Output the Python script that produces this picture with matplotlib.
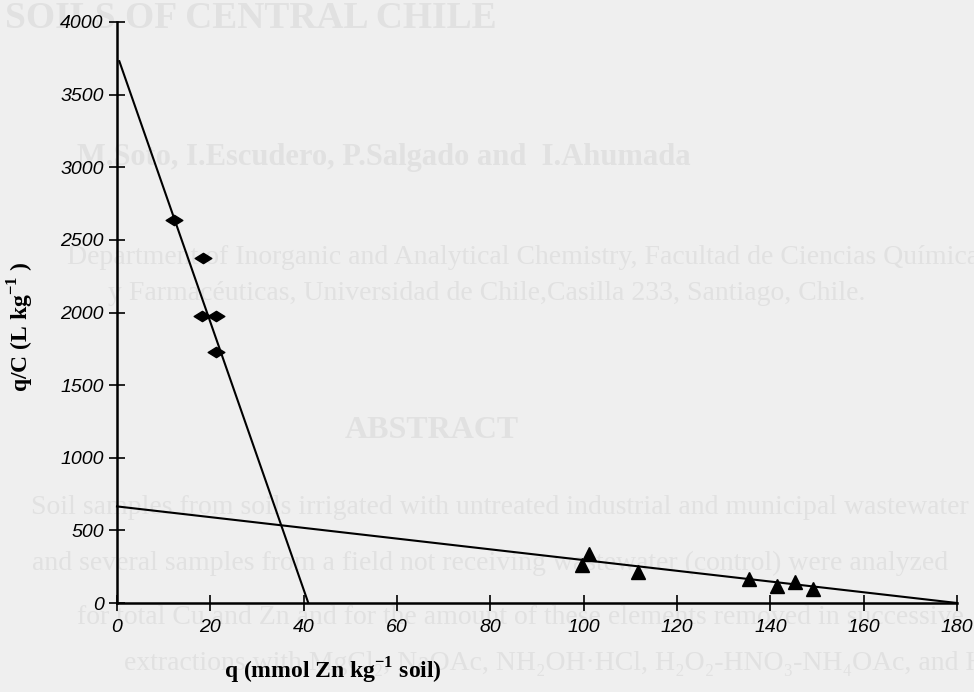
"""Scatchard-type plot: q/C versus q for Zn sorption on soil."""

import matplotlib
matplotlib.use("Agg")
import matplotlib.pyplot as plt
from matplotlib.path import Path

# diamonds (high-affinity sites)
q_diamond = [12.3, 18.4, 18.2, 21.2, 21.3]
qc_diamond = [2637, 2377, 1977, 1977, 1726]

# triangles (low-affinity sites)
q_triangle = [101.2, 99.7, 111.7, 135.4, 141.5, 145.3, 149.1]
qc_triangle = [335, 264, 216, 165, 117, 144, 94]

# fitted lines (end points)
fit1_q = [0.5, 41.0]
fit1_qc = [3730, 0]
fit2_q = [0.0, 180.0]
fit2_qc = [665, 0]

x_ticks = [0, 20, 40, 60, 80, 100, 120, 140, 160, 180]
y_ticks = [0, 500, 1000, 1500, 2000, 2500, 3000, 3500, 4000]

# faint bleed-through text from the other side of the scanned page:
# (line, word used to place it, x of that word in px, y in px, size, weight)
ghost_lines = [
    ("SOILS OF CENTRAL CHILE", "SOILS", 5, 18, 27, "bold"),
    ("M.Soto, I.Escudero, P.Salgado and  I.Ahumada", "P.Salgado", 342, 157, 22, "bold"),
    ("Department of Inorganic and Analytical Chemistry, Facultad de Ciencias Químicas",
     "and Analytical", 348, 258, 20, "normal"),
    ("y Farmacéuticas, Universidad de Chile,Casilla 233, Santiago, Chile.",
     "de Chile", 447, 293, 20, "normal"),
    ("ABSTRACT", "ABSTRACT", 345, 430, 23, "bold"),
    ("Soil samples from soils irrigated with untreated industrial and municipal wastewater",
     "irrigated", 298, 507, 20, "normal"),
    ("and several samples from a field not receiving wastewater (control) were analyzed",
     "from a field", 261, 563, 20, "normal"),
    ("for total Cu and Zn and for the amount of these elements removed in successive",
     "removed", 714, 618, 20, "normal"),
    ("extractions with MgCl\u2082, NaOAc, NH\u2082OH\u00b7HCl, H\u2082O\u2082-HNO\u2083-NH\u2084OAc, and HNO\u2083",
     "NaOAc", 397, 664, 20, "normal"),
]

W, H = 974, 692
fig = plt.figure(figsize=(W / 100, H / 100), dpi=100)
fig.patch.set_facecolor("#efefef")
renderer = fig.canvas.get_renderer()

for text, word, wx, py, size, weight in ghost_lines:
    style = dict(fontsize=size, fontweight=weight, family="Liberation Serif")
    prefix = text[:text.index(word)]
    shift = 0
    if prefix:
        probe = fig.text(0, 0, prefix + "|", **style)
        bar = fig.text(0, 0, "|", **style)
        shift = (probe.get_window_extent(renderer).width
                 - bar.get_window_extent(renderer).width)
        probe.remove()
        bar.remove()
    fig.text((wx - shift) / W, 1 - py / H, text, color="#e1e1e1",
             ha="left", va="center", zorder=-1, **style)

ax = fig.add_axes([117 / W, 1 - 603 / H, (957 - 117) / W, (603 - 22) / H])
ax.patch.set_visible(False)

ax.plot(fit1_q, fit1_qc, color="black", lw=1.5, clip_on=False)
ax.plot(fit2_q, fit2_qc, color="black", lw=1.5, clip_on=False)

diamond = Path([(-1, 0), (0, 0.62), (1, 0), (0, -0.62), (-1, 0)],
               [Path.MOVETO, Path.LINETO, Path.LINETO, Path.LINETO, Path.CLOSEPOLY])
ax.plot(q_diamond, qc_diamond, linestyle="none", marker=diamond, markersize=12,
        color="black", clip_on=False)
ax.plot(q_triangle, qc_triangle, linestyle="none", marker="^", markersize=10,
        color="black", clip_on=False)

ax.set_xlim(0, 180)
ax.set_ylim(0, 4000)
ax.set_xticks(x_ticks)
ax.set_yticks(y_ticks)

for side in ("top", "right"):
    ax.spines[side].set_visible(False)
for side in ("left", "bottom"):
    ax.spines[side].set_linewidth(1.8)

ax.tick_params(direction="inout", length=11, width=1.2, colors="black")
ax.tick_params(axis="y", pad=4)
ax.tick_params(axis="x", pad=6)
for lab in ax.get_xticklabels() + ax.get_yticklabels():
    lab.set_family("Liberation Sans")
    lab.set_style("italic")
    lab.set_fontsize(14)

label_font = dict(family="Liberation Serif", fontweight="bold", fontsize=17)
ax.set_xlabel(r"q (mmol Zn kg$^{\mathregular{-1}}$ soil)", **label_font)
ax.xaxis.set_label_coords((333 - 117) / (957 - 117), -(656 - 603) / (603 - 22))
ax.set_ylabel(r"q/C (L kg$^{\mathregular{-1}}$ )", **label_font)
ax.yaxis.set_label_coords(-(117 - 36) / (957 - 117), (603 - 327) / (603 - 22))

fig.savefig("out.png", dpi=100, facecolor=fig.get_facecolor())
